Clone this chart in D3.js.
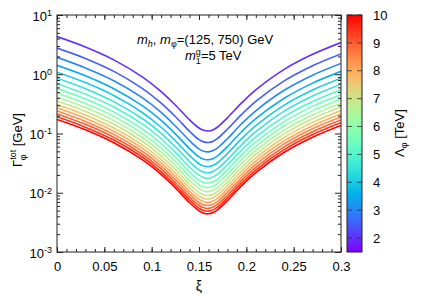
<!DOCTYPE html>
<html>
<head>
<meta charset="utf-8">
<script src="https://cdn.jsdelivr.net/npm/d3@7"></script>
<style>
body{margin:0;background:#fff;}
svg{font-family:"Liberation Sans",Arial,sans-serif;}
</style>
</head>
<body>
<script>
// xi grid (denser near the minimum)
var xi = [0, 0.03, 0.06, 0.09, 0.11, 0.125, 0.14, 0.15, 0.155, 0.16, 0.165, 0.17, 0.18, 0.195, 0.21, 0.24, 0.27, 0.30];

// Lambda_phi in TeV, one curve each
var lambdas = [2, 2.5, 3, 3.5, 4, 4.5, 5, 5.5, 6, 6.5, 7, 7.5, 8, 8.5, 9, 9.5, 10];

// total width in GeV, one array per Lambda
var w2   = [4.33, 2.89, 1.75, 0.905, 0.51, 0.303, 0.170, 0.124, 0.113, 0.110, 0.116, 0.130, 0.184, 0.328, 0.545, 1.21, 2.17, 3.43];
var w2_5 = [2.77, 1.85, 1.12, 0.579, 0.326, 0.194, 0.109, 0.0790, 0.0722, 0.0706, 0.0742, 0.0834, 0.118, 0.210, 0.349, 0.771, 1.39, 2.20];
var w3   = [1.93, 1.28, 0.777, 0.402, 0.227, 0.134, 0.0757, 0.0549, 0.0501, 0.0490, 0.0516, 0.0579, 0.0817, 0.146, 0.242, 0.536, 0.963, 1.52];
var w3_5 = [1.415, 0.944, 0.571, 0.2955, 0.1665, 0.0988, 0.0556, 0.0403, 0.0368, 0.0360, 0.0379, 0.0425, 0.0600, 0.107, 0.178, 0.393, 0.708, 1.12];
var w4   = [1.083, 0.7225, 0.437, 0.226, 0.1275, 0.0756, 0.0426, 0.0309, 0.0282, 0.0276, 0.0290, 0.0326, 0.0459, 0.0819, 0.136, 0.301, 0.542, 0.858];
var w4_5 = [0.856, 0.571, 0.345, 0.179, 0.1007, 0.0598, 0.0336, 0.0244, 0.0223, 0.0218, 0.0229, 0.0257, 0.0363, 0.0647, 0.1077, 0.238, 0.428, 0.678];
var w5   = [0.693, 0.462, 0.280, 0.145, 0.0816, 0.0484, 0.0272, 0.0198, 0.0180, 0.0176, 0.0186, 0.0208, 0.0294, 0.0524, 0.0872, 0.193, 0.347, 0.549];
var w5_5 = [0.573, 0.382, 0.231, 0.1197, 0.0674, 0.0400, 0.0225, 0.0163, 0.0149, 0.0146, 0.0153, 0.0172, 0.0243, 0.0433, 0.0721, 0.159, 0.287, 0.454];
var w6   = [0.481, 0.321, 0.194, 0.1006, 0.0567, 0.0336, 0.0189, 0.0137, 0.0125, 0.0123, 0.0129, 0.0145, 0.0204, 0.0364, 0.0606, 0.134, 0.241, 0.381];
var w6_5 = [0.410, 0.274, 0.165, 0.0857, 0.0483, 0.0286, 0.0161, 0.0117, 0.01067, 0.01044, 0.01098, 0.0123, 0.0174, 0.0310, 0.0516, 0.114, 0.205, 0.325];
var w7   = [0.354, 0.236, 0.143, 0.0739, 0.0416, 0.0247, 0.0139, 0.0101, 0.0092, 0.0090, 0.00947, 0.0106, 0.0150, 0.0267, 0.0445, 0.0984, 0.177, 0.280];
var w7_5 = [0.308, 0.2055, 0.124, 0.0644, 0.0363, 0.0215, 0.0121, 0.00878, 0.00802, 0.00784, 0.00825, 0.00926, 0.0131, 0.0233, 0.0388, 0.0857, 0.154, 0.244];
var w8   = [0.271, 0.181, 0.109, 0.0566, 0.0319, 0.0189, 0.01064, 0.00772, 0.00705, 0.00689, 0.00725, 0.00814, 0.0115, 0.0205, 0.0341, 0.0753, 0.1355, 0.214];
var w8_5 = [0.240, 0.160, 0.0967, 0.0501, 0.0282, 0.0167, 0.00943, 0.00684, 0.00624, 0.00610, 0.00642, 0.00721, 0.0102, 0.0181, 0.0302, 0.0667, 0.120, 0.190];
var w9   = [0.214, 0.1427, 0.0863, 0.0447, 0.0252, 0.0149, 0.00841, 0.0061, 0.00557, 0.00544, 0.00573, 0.00643, 0.00907, 0.0162, 0.0269, 0.0595, 0.107, 0.169];
var w9_5 = [0.192, 0.128, 0.0775, 0.0401, 0.0226, 0.0134, 0.00755, 0.00547, 0.0050, 0.00489, 0.00514, 0.00577, 0.00814, 0.0145, 0.0242, 0.0534, 0.0961, 0.152];
var w10  = [0.173, 0.1156, 0.0699, 0.0362, 0.0204, 0.0121, 0.00681, 0.00494, 0.00451, 0.00441, 0.00464, 0.00521, 0.00735, 0.0131, 0.0218, 0.0482, 0.0867, 0.137];

var series = [w2, w2_5, w3, w3_5, w4, w4_5, w5, w5_5, w6, w6_5, w7, w7_5, w8, w8_5, w9, w9_5, w10];

// tick labels
var xTicks = [0, 0.05, 0.1, 0.15, 0.2, 0.25, 0.3];
var yTicks = [1e-3, 1e-2, 1e-1, 1, 10];
var cbTicks = [2, 3, 4, 5, 6, 7, 8, 9, 10];

var margin = {left:57, top:15, right:83, bottom:44};
var width = 284;
var height = 237;
var ink = "#222";

var svg = d3.select("body").append("svg")
    .attr("width", 424)
    .attr("height", 296);

var x = d3.scaleLinear().domain([0, 0.3]).range([0, width]);
var y = d3.scaleLog().domain([1e-3, 10]).range([height, 0]);

// gnuplot style rainbow (rgbformulae 33,13,10)
function palette(t) {
    var r = Math.min(1, Math.abs(2 * t - 0.5));
    var g = Math.max(0, Math.sin(Math.PI * t));
    var b = Math.max(0, Math.cos(Math.PI * t / 2));
    return d3.rgb(255 * r, 255 * g, 255 * b).toString();
}
var color = d3.scaleSequential(palette).domain([1.5, 10]);

var chartGroup = svg.append("g")
    .attr("transform", "translate(" + margin.left + "," + margin.top + ")");

chartGroup.append("clipPath").attr("id", "clip")
    .append("rect").attr("width", width).attr("height", height);

var line = d3.line()
    .x(function(d, i) { return x(xi[i]); })
    .y(function(d) { return y(d); })
    .curve(d3.curveCatmullRom.alpha(0.5));

var curves = chartGroup.append("g").attr("clip-path", "url(#clip)");
series.forEach(function(s, i) {
    curves.append("path")
        .datum(s)
        .attr("d", line)
        .attr("fill", "none")
        .attr("stroke", color(lambdas[i]))
        .attr("stroke-width", 1.6);
});

// minor ticks
var xMinor = d3.range(0, 31).map(function(i) { return i / 100; });
var yMinor = [];
[1e-3, 1e-2, 1e-1, 1].forEach(function(dec) {
    for (var k = 2; k <= 9; k++) yMinor.push(dec * k);
});

function styleAxis(g) {
    g.attr("font-size", 13).attr("font-family", null);
    g.select(".domain").remove();
    g.selectAll(".tick line").attr("stroke", ink);
    g.selectAll(".tick text").attr("fill", "#000");
}

// bottom
chartGroup.append("g")
    .attr("transform", "translate(0," + height + ")")
    .call(d3.axisBottom(x).tickValues(xMinor).tickSize(-3).tickSizeOuter(0).tickFormat(""))
    .call(styleAxis);
chartGroup.append("g")
    .attr("class", "axis x")
    .attr("transform", "translate(0," + height + ")")
    .call(d3.axisBottom(x).tickValues(xTicks).tickSize(-5).tickSizeOuter(0).tickPadding(10).tickFormat(d3.format("~g")))
    .call(styleAxis);
// top (mirror)
chartGroup.append("g")
    .call(d3.axisTop(x).tickValues(xMinor).tickSize(-3).tickSizeOuter(0).tickFormat(""))
    .call(styleAxis);
chartGroup.append("g")
    .call(d3.axisTop(x).tickValues(xTicks).tickSize(-5).tickSizeOuter(0).tickFormat(""))
    .call(styleAxis);

// left
chartGroup.append("g")
    .call(d3.axisLeft(y).tickValues(yMinor).tickSize(-3).tickSizeOuter(0).tickFormat(""))
    .call(styleAxis);
var yAxisG = chartGroup.append("g")
    .attr("class", "axis y")
    .call(d3.axisLeft(y).tickValues(yTicks).tickSize(-6).tickSizeOuter(0).tickPadding(5))
    .call(styleAxis);
yAxisG.selectAll(".tick text").text(null).attr("dy", "0.4em").each(function(d) {
    var t = d3.select(this);
    t.append("tspan").text("10");
    t.append("tspan").attr("dy", "-0.55em").attr("font-size", 9).text(Math.round(Math.log10(d)));
});
// right (mirror)
chartGroup.append("g")
    .attr("transform", "translate(" + width + ",0)")
    .call(d3.axisRight(y).tickValues(yMinor).tickSize(-3).tickSizeOuter(0).tickFormat(""))
    .call(styleAxis);
chartGroup.append("g")
    .attr("transform", "translate(" + width + ",0)")
    .call(d3.axisRight(y).tickValues(yTicks).tickSize(-6).tickSizeOuter(0).tickFormat(""))
    .call(styleAxis);

// frame
chartGroup.append("rect")
    .attr("width", width).attr("height", height)
    .attr("fill", "none").attr("stroke", ink).attr("stroke-width", 1);

// axis titles
svg.append("text")
    .attr("x", 199).attr("y", 291)
    .attr("text-anchor", "middle").attr("font-size", 14)
    .text("ξ");

var yTitle = svg.append("text")
    .attr("transform", "translate(22,140) rotate(-90)")
    .attr("text-anchor", "middle").attr("font-size", 13);
yTitle.append("tspan").text("Γ");
yTitle.append("tspan").attr("font-size", 9).attr("dy", -6).text("tot");
yTitle.append("tspan").attr("font-size", 9).attr("dx", -10.5).attr("dy", 10).text("φ");
yTitle.append("tspan").attr("dx", 4.5).attr("dy", -4).text(" [GeV]");

// annotation
var note1 = svg.append("text").attr("x", 137).attr("y", 44).attr("font-size", 13);
note1.append("tspan").attr("font-style", "italic").text("m");
note1.append("tspan").attr("font-size", 9).attr("font-style", "italic").attr("dy", 3).text("h");
note1.append("tspan").attr("dy", -3).text(", ");
note1.append("tspan").attr("font-style", "italic").text("m");
note1.append("tspan").attr("font-size", 9).attr("dy", 3).text("φ");
note1.append("tspan").attr("dy", -3).text("=(125, 750) GeV");

var note2 = svg.append("text").attr("x", 185).attr("y", 60).attr("font-size", 13);
note2.append("tspan").attr("font-style", "italic").text("m");
note2.append("tspan").attr("font-size", 9).attr("dy", -5.5).text("g");
note2.append("tspan").attr("font-size", 9).attr("dx", -5).attr("dy", 9).text("1");
note2.append("tspan").attr("dy", -3.5).text("=5 TeV");

// colour box
var cbX = 347, cbW = 15;
var cb = d3.scaleLinear().domain([1.5, 10]).range([margin.top + height, margin.top]);

var grad = svg.append("defs").append("linearGradient")
    .attr("id", "cbgrad")
    .attr("x1", 0).attr("y1", 1).attr("x2", 0).attr("y2", 0);
d3.range(0, 1.0001, 0.05).forEach(function(t) {
    grad.append("stop").attr("offset", t).attr("stop-color", palette(t));
});

svg.append("rect")
    .attr("x", cbX).attr("y", margin.top)
    .attr("width", cbW).attr("height", height)
    .attr("fill", "url(#cbgrad)")
    .attr("stroke", ink).attr("stroke-width", 1);

var cbAxis = svg.append("g")
    .attr("transform", "translate(" + (cbX + cbW) + ",0)")
    .call(d3.axisRight(cb).tickValues(cbTicks).tickSize(0).tickPadding(11).tickFormat(d3.format("d")))
    .call(styleAxis);

var cbTickG = svg.append("g").attr("stroke", "#333").attr("stroke-opacity", 0.8);
cbTicks.forEach(function(v) {
    cbTickG.append("line").attr("x1", cbX).attr("x2", cbX + 5).attr("y1", cb(v)).attr("y2", cb(v));
    cbTickG.append("line").attr("x1", cbX + cbW - 5).attr("x2", cbX + cbW).attr("y1", cb(v)).attr("y2", cb(v));
});

var cbTitle = svg.append("text")
    .attr("transform", "translate(404,133) rotate(-90)")
    .attr("text-anchor", "middle").attr("font-size", 13);
cbTitle.append("tspan").text("Λ");
cbTitle.append("tspan").attr("font-size", 9).attr("dy", 3).text("φ");
cbTitle.append("tspan").attr("dy", -3).text(" [TeV]");
</script>
</body>
</html>
